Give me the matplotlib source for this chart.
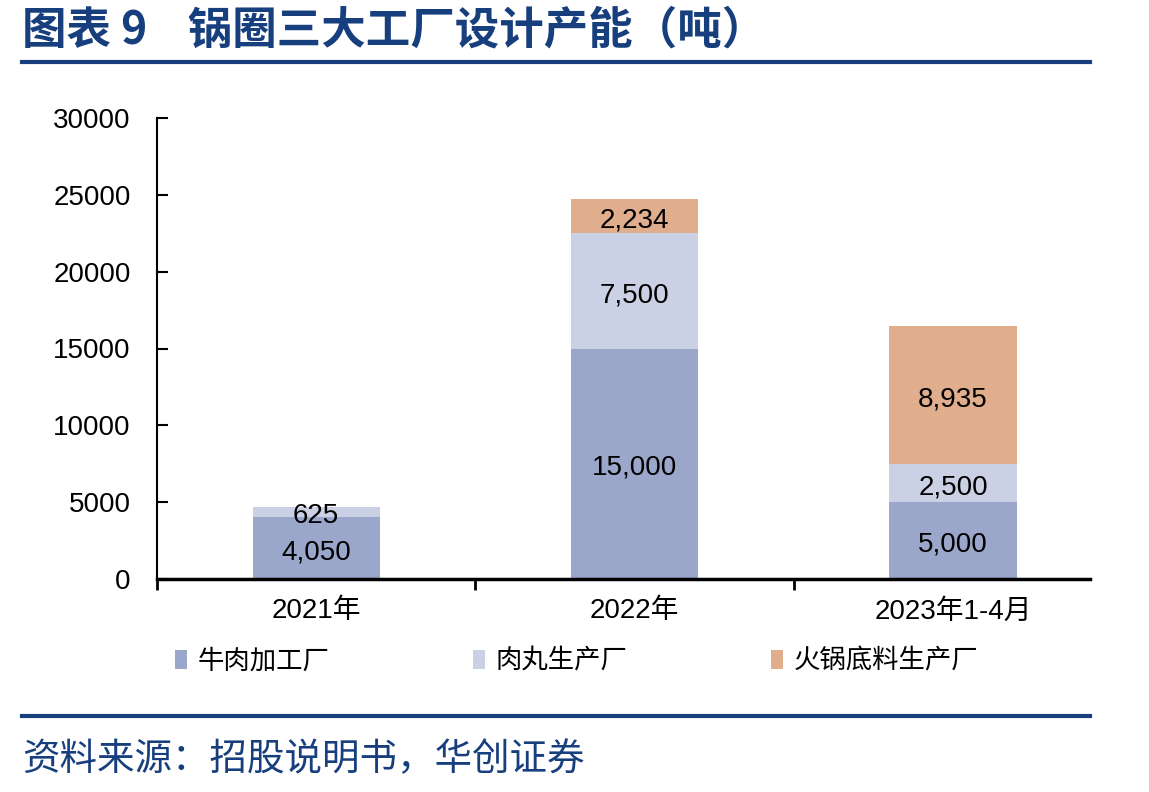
import numpy as np
import matplotlib
matplotlib.use('Agg')
import matplotlib.pyplot as plt
from matplotlib.ticker import FixedLocator

plt.rcParams['font.family'] = ['Liberation Sans', 'Noto Sans CJK SC', 'DejaVu Sans']

# data
categories = ['2021年', '2022年', '2023年1-4月']
series_names = ['牛肉加工厂', '肉丸生产厂', '火锅底料生产厂']
beef = [4050, 15000, 5000]
meatball = [625, 7500, 2500]
hotpot = [0, 2234, 8935]
colors = ['#9BA7CA', '#CBD1E4', '#E0AD8D']
yticks = [0, 5000, 10000, 15000, 20000, 25000, 30000]

fig = plt.figure(figsize=(11.49, 7.92), dpi=100)
ax = fig.add_axes([157 / 1149, 1 - 579 / 792, 933 / 1149, 461 / 792])

x = np.arange(len(categories))
bottom = np.zeros(len(categories))
for name, vals, c in zip(series_names, [beef, meatball, hotpot], colors):
    vals = np.array(vals, dtype=float)
    bars = ax.bar(x, vals, width=0.4, bottom=bottom, color=c, label=name)
    labels = ['{:,.0f}'.format(v) if v > 0 else '' for v in vals]
    ax.bar_label(bars, labels=labels, label_type='center', fontsize=20, color='black',
                 padding=-3)
    bottom += vals

ax.set_ylim(0, 30000)
ax.set_xlim(-0.5, 2.43)
ax.set_yticks(yticks)
ax.tick_params(axis='y', direction='in', length=8, width=1.5, labelsize=20, pad=19)

# category boundaries as ticks, labels on minor ticks
ax.xaxis.set_major_locator(FixedLocator([-0.5, 0.5, 1.5]))
ax.set_xticklabels([])
ax.xaxis.set_minor_locator(FixedLocator(x))
ax.set_xticklabels(categories, minor=True)
ax.tick_params(axis='x', which='major', direction='out', length=8, width=2)
ax.tick_params(axis='x', which='minor', length=0, labelsize=20, pad=14)

for s in ['top', 'right']:
    ax.spines[s].set_visible(False)
ax.spines['left'].set_linewidth(1.5)
ax.spines['bottom'].set_linewidth(2.5)

# legend
fig.legend(loc='center', bbox_to_anchor=(0.502, 1 - 661 / 792), ncol=3, frameon=False,
           handlelength=0.45, handleheight=0.7, handletextpad=0.4,
           columnspacing=5.45, prop={'family': ['Noto Sans CJK SC'], 'size': 19})

# title, rules and source
blue = '#173F7E'
fig.text(22 / 1149, 1 - 31 / 792, '图表 9    锅圈三大工厂设计产能（吨）', fontsize=32,
         fontweight='bold', color=blue, va='center', family=['Noto Sans CJK SC'])
fig.add_artist(plt.Line2D([22 / 1149, 1090 / 1149], [1 - 62 / 792] * 2, color=blue, lw=3))
fig.add_artist(plt.Line2D([22 / 1149, 1090 / 1149], [1 - 716 / 792] * 2, color=blue, lw=3))
fig.text(22 / 1149, 1 - 760 / 792, '资料来源：招股说明书，华创证券', fontsize=27,
         style='italic', color=blue, va='center', family=['Noto Sans CJK SC'])

fig.savefig('out.png', dpi=100)
